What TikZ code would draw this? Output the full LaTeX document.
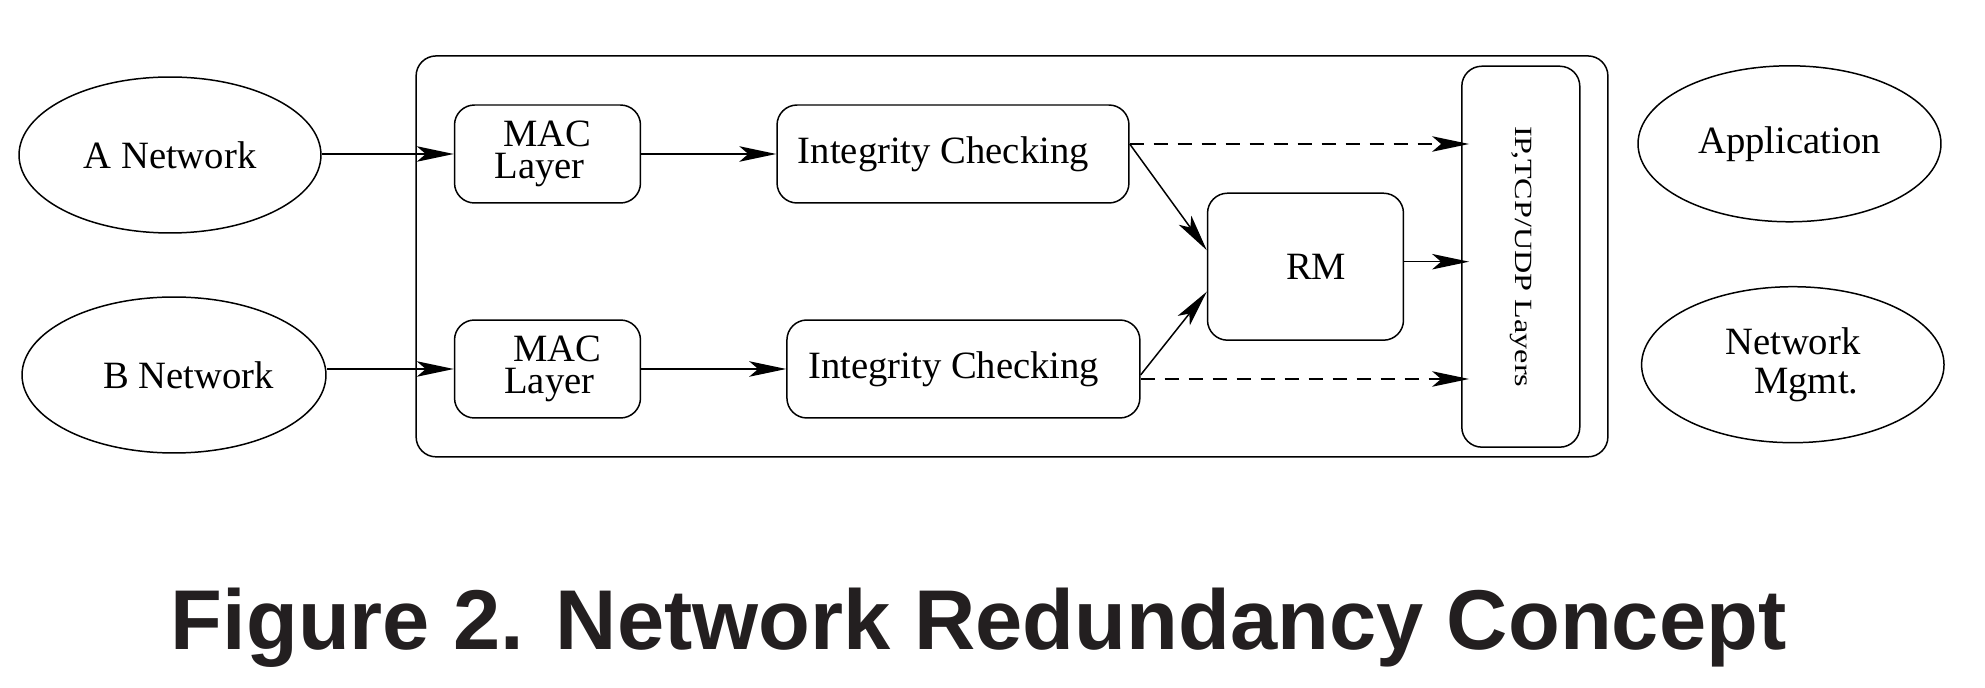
\documentclass[tikz,border=0pt]{standalone}
\usepackage{fontspec}
\setmainfont{Liberation Serif}
\newfontfamily\txtfont{Liberation Serif}
\newfontfamily\capfont{Liberation Sans}
\usetikzlibrary{shapes.geometric,arrows.meta,calc}
\definecolor{capgray}{HTML}{231F20}

\begin{document}
\begin{tikzpicture}[x=0.02cm,y=-0.02cm,line width=0.85pt,
    >={Stealth[length=0.74cm,width=0.31cm,inset=0.18cm]},
    blk/.style={draw,rounded corners=0.4cm,inner sep=0pt,align=center,
        font=\txtfont\fontsize{22}{18}\selectfont},
    oval/.style={draw,ellipse,inner sep=0pt,minimum width=6.04cm,
        minimum height=3.12cm,align=center,font=\txtfont\fontsize{22}{22}\selectfont},
    into/.style={->,shorten >=-0.16cm},
    dsh/.style={into,dash pattern=on 0.28cm off 0.2cm}]
            \def\bh{1.96cm}
            \def\macw{3.72cm}

            \useasboundingbox (0,0) rectangle (1985,688);

            \node[draw,rounded corners=0.4cm,minimum width=23.84cm,minimum height=8.02cm] (sys) at (1012,256.4) {};

            \node[oval] (anet) at (170,155) {A Network};
            \node[oval,minimum width=6.08cm] (bnet) at (174,375) {\hspace*{0.75em}B Network};
            \node[oval,minimum width=6.06cm] (app) at (1789.5,143.8) {Application};
            \node[oval,minimum width=6.05cm] (mgmt) at (1792.8,364.7) {Network\\\hspace*{0.7em}Mgmt.};

            \node[blk,minimum width=\macw,minimum height=\bh] (macA) at (547.5,154) {MAC\\Layer\hspace*{0.4em}};
            \node[blk,minimum width=\macw,minimum height=\bh] (macB) at (547.5,369) {\hspace*{0.52em}MAC\\\hspace*{0.1em}Layer};
            \node[blk,minimum width=7.04cm,minimum height=\bh] (chkA) at (953,154) {Integrity Checking\hspace*{0.5em}};
            \node[blk,minimum width=7.06cm,minimum height=\bh] (chkB) at (963.4,369) {Integrity Checking\hspace*{0.5em}};
            \node[blk,minimum width=3.92cm,minimum height=2.94cm] (rm) at (1305.5,266.7) {\hspace*{0.55em}RM};
            \node[blk,minimum width=2.36cm,minimum height=7.62cm,
                label={[rotate=-90,font=\txtfont\fontsize{14.1}{14}\selectfont]center:\scalebox{1.3}[1]{IP,TCP/UDP Layers}}] (ip) at (1520.8,256.7) {};

            \coordinate (a1) at ([yshift=0.2cm]chkA.east);
            \coordinate (b1) at ([yshift=-0.12cm]chkB.east);
            \coordinate (b2) at ([yshift=-0.2cm]chkB.east);
            \coordinate (r1) at ([yshift=0.1cm]rm.east);

            \draw[->] (anet.east |- macA.west) -- (macA.west);
            \draw[->] (bnet.east |- macB.west) -- (macB.west);
            \draw[->] (macA) -- (chkA);
            \draw[->] (macB) -- (chkB);
            \draw[->] (a1) -- ([yshift=0.33cm]rm.west);
            \draw[->] (b1) -- ([yshift=-0.5cm]rm.west);
            \draw[dsh] (a1) -- (a1 -| ip.west);
            \draw[dsh] (b2) -- (b2 -| ip.west);
            \draw[into] (r1) -- (r1 -| ip.west);

            \node[anchor=base west,inner sep=0pt,text=capgray,
                font=\capfont\bfseries\fontsize{48.3}{48}\selectfont] (cap) at (170,649.3) {Figure 2. Network Redundancy Concept};
        \end{tikzpicture}
\end{document}
